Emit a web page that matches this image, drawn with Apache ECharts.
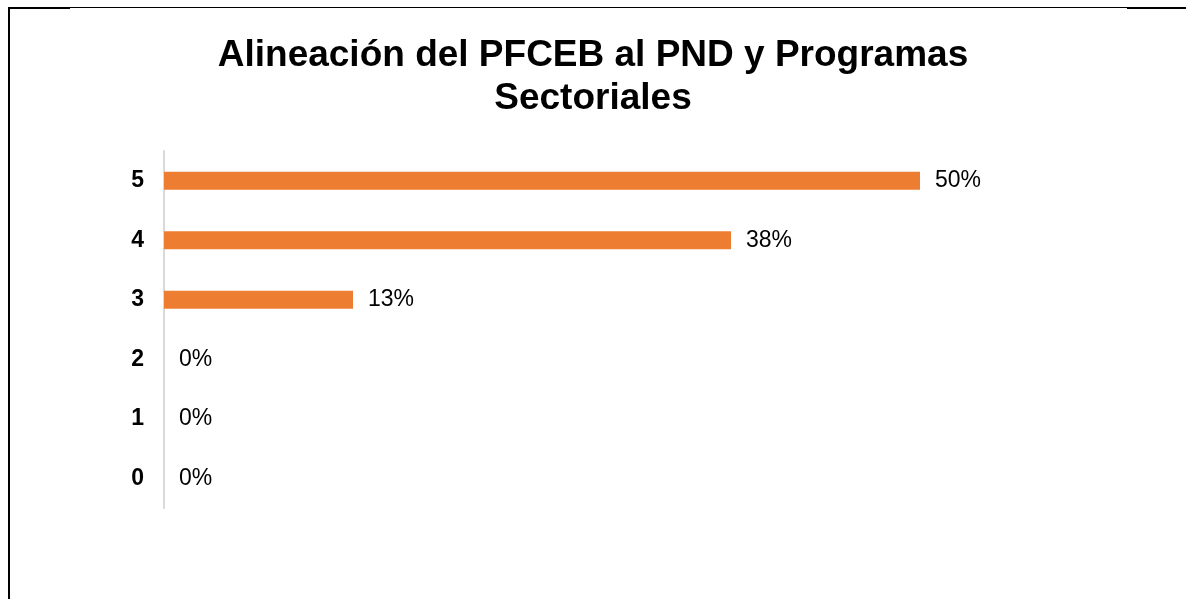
<!DOCTYPE html>
<html>
<head>
<meta charset="utf-8">
<script src="https://cdn.jsdelivr.net/npm/echarts@6/dist/echarts.min.js"></script>
<style>
  html, body { margin: 0; padding: 0; background: #fff; }
  #main { width: 1186px; height: 599px; }
</style>
</head>
<body>
<div id="main"></div>
<script>
var categories = ['0', '1', '2', '3', '4', '5'];
var shares = [0, 0, 0, 12.5, 37.5, 50];
var titleText = 'Alineación del PFCEB al PND y Programas\nSectoriales';

var myChart = echarts.init(document.getElementById('main'));

var option = {
  backgroundColor: '#fff',
  animation: false,
  title: {
    text: titleText,
    left: 'center',
    top: 29,
    textStyle: {
      fontFamily: 'Liberation Sans, Arial, sans-serif',
      fontSize: 37,
      fontWeight: 'bold',
      color: '#000',
      lineHeight: 43
    }
  },
  grid: { left: 164, right: 266, top: 151, height: 357 },
  xAxis: {
    type: 'value',
    min: 0,
    max: 50,
    show: false
  },
  yAxis: {
    type: 'category',
    data: categories,
    axisLine: { show: true, lineStyle: { color: '#d9d9d9', width: 2 } },
    axisTick: { show: false },
    axisLabel: {
      margin: 20,
      fontFamily: 'Liberation Sans, Arial, sans-serif',
      fontSize: 23,
      fontWeight: 'bold',
      color: '#000'
    }
  },
  series: [{
    type: 'bar',
    data: shares,
    barWidth: 18,
    itemStyle: { color: '#ED7D31' },
    label: {
      show: true,
      position: 'right',
      distance: 15,
      fontFamily: 'Liberation Sans, Arial, sans-serif',
      fontSize: 23,
      color: '#000',
      formatter: function (p) { return Math.round(p.value) + '%'; }
    }
  }],
  graphic: [
    // frame pieces at the page edge
    { type: 'rect', shape: { x: 8, y: 7, width: 2, height: 592 }, style: { fill: '#000' } },
    { type: 'rect', shape: { x: 8, y: 7, width: 62, height: 2 }, style: { fill: '#000' } },
    { type: 'rect', shape: { x: 70, y: 7, width: 1057, height: 1 }, style: { fill: '#000' } },
    { type: 'rect', shape: { x: 1127, y: 7, width: 59, height: 2 }, style: { fill: '#000' } }
  ]
};

myChart.setOption(option);
window.onresize = myChart.resize;
</script>
</body>
</html>
